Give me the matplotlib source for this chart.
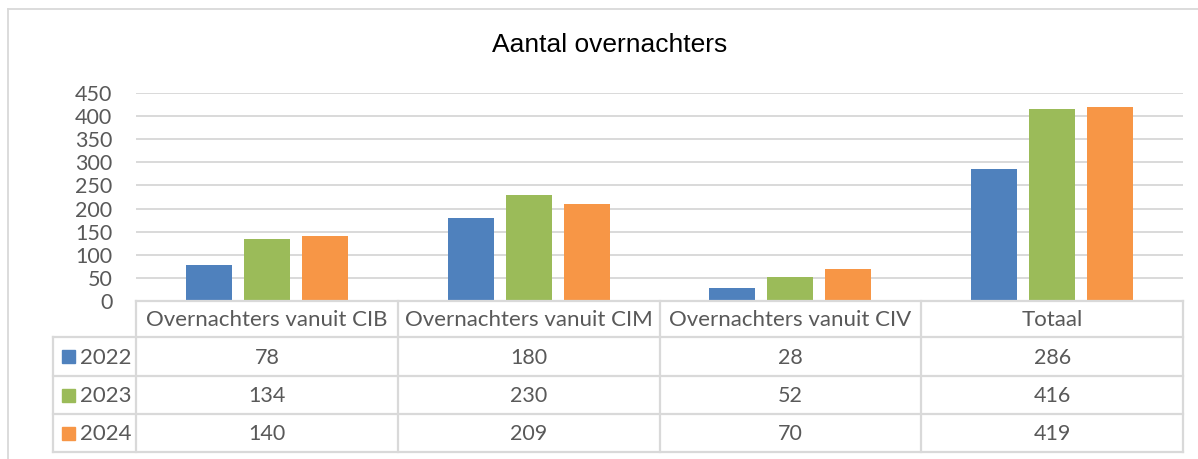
import matplotlib
matplotlib.use("Agg")
import matplotlib.pyplot as plt
import matplotlib.transforms as mtransforms
from matplotlib.lines import Line2D
from matplotlib.patches import Rectangle
import numpy as np

categories = ["Overnachters vanuit CIB", "Overnachters vanuit CIM", "Overnachters vanuit CIV", "Totaal"]
years = ["2022", "2023", "2024"]
v2022 = [78, 180, 28, 286]
v2023 = [134, 230, 52, 416]
v2024 = [140, 209, 70, 419]
series = [v2022, v2023, v2024]
colors = ["#4F81BD", "#9BBB59", "#F79646"]
yticks = [0, 50, 100, 150, 200, 250, 300, 350, 400, 450]
title = "Aantal overnachters"

W, H = 1198, 459
fig = plt.figure(figsize=(W / 100, H / 100), dpi=100)
fig.patch.set_facecolor("white")

def fx(x):
    return x / W

def fy(y):
    return 1 - y / H

left, right, top, bottom = 136, 1183, 93, 301
ax = fig.add_axes([fx(left), fy(bottom), fx(right - left), fy(top) - fy(bottom)])

TXT = "#595959"
GRID = "#D9D9D9"
tfont = "Lato"
FS = 15.5

x = np.arange(len(categories))
step = 0.2216
bw = 0.176
for i, (vals, c) in enumerate(zip(series, colors)):
    ax.bar(x + (i - 1) * step, vals, width=bw, color=c, zorder=3)

ax.set_xlim(-0.5, len(categories) - 0.5)
ax.set_ylim(0, 450)
ax.set_yticks(yticks)
ax.set_yticklabels([str(t) for t in yticks], fontsize=FS, color=TXT, family=tfont)
ax.tick_params(axis="y", length=0, pad=17)
ax.set_xticks([])
for s in ax.spines.values():
    s.set_visible(False)
ax.yaxis.grid(True, color=GRID, lw=1.4, zorder=0)
ax.set_axisbelow(True)

# outer frame
fig.add_artist(Line2D([fx(8), fx(1210)], [fy(9), fy(9)], color="#D9D9D9", lw=1.3))
fig.add_artist(Line2D([fx(8), fx(8)], [fy(9), fy(470)], color="#D9D9D9", lw=1.3))

# title
fig.text(fx(610), fy(45), title, ha="center", va="center", fontsize=19,
         family="Liberation Sans", color="black")

# data table
tr = mtransforms.blended_transform_factory(ax.transData, fig.transFigure)
row_y = [301, 337, 376, 414, 452]
LC = "#D9D9D9"
lw = 1.6
for b in np.arange(-0.5, len(categories), 1.0):
    ax.add_line(Line2D([b, b], [fy(row_y[0]), fy(row_y[-1])], transform=tr, color=LC, lw=lw, clip_on=False))
fig.add_artist(Line2D([fx(53), fx(53)], [fy(row_y[1]), fy(row_y[-1])], color=LC, lw=lw))
for j, yy in enumerate(row_y):
    xl = 136 if j == 0 else 53
    fig.add_artist(Line2D([fx(xl), fx(right)], [fy(yy), fy(yy)], color=LC, lw=lw))

for i, cat in enumerate(categories):
    ax.text(x[i], fy((row_y[0] + row_y[1]) / 2 + 1), cat, transform=tr, ha="center", va="center",
            fontsize=16, color=TXT, family=tfont, clip_on=False)
for r, (yr, vals, c) in enumerate(zip(years, series, colors)):
    yc = (row_y[r + 1] + row_y[r + 2]) / 2
    fig.add_artist(Rectangle((fx(62), fy(yc + 6.5)), fx(13), fy(0) - fy(13), color=c))
    fig.text(fx(80), fy(yc + 1), yr, ha="left", va="center", fontsize=16, color=TXT, family=tfont)
    for i, v in enumerate(vals):
        ax.text(x[i], fy(yc + 1), str(v), transform=tr, ha="center", va="center",
                fontsize=FS, color=TXT, family=tfont, clip_on=False)

fig.savefig("out.png", dpi=100, facecolor="white")
